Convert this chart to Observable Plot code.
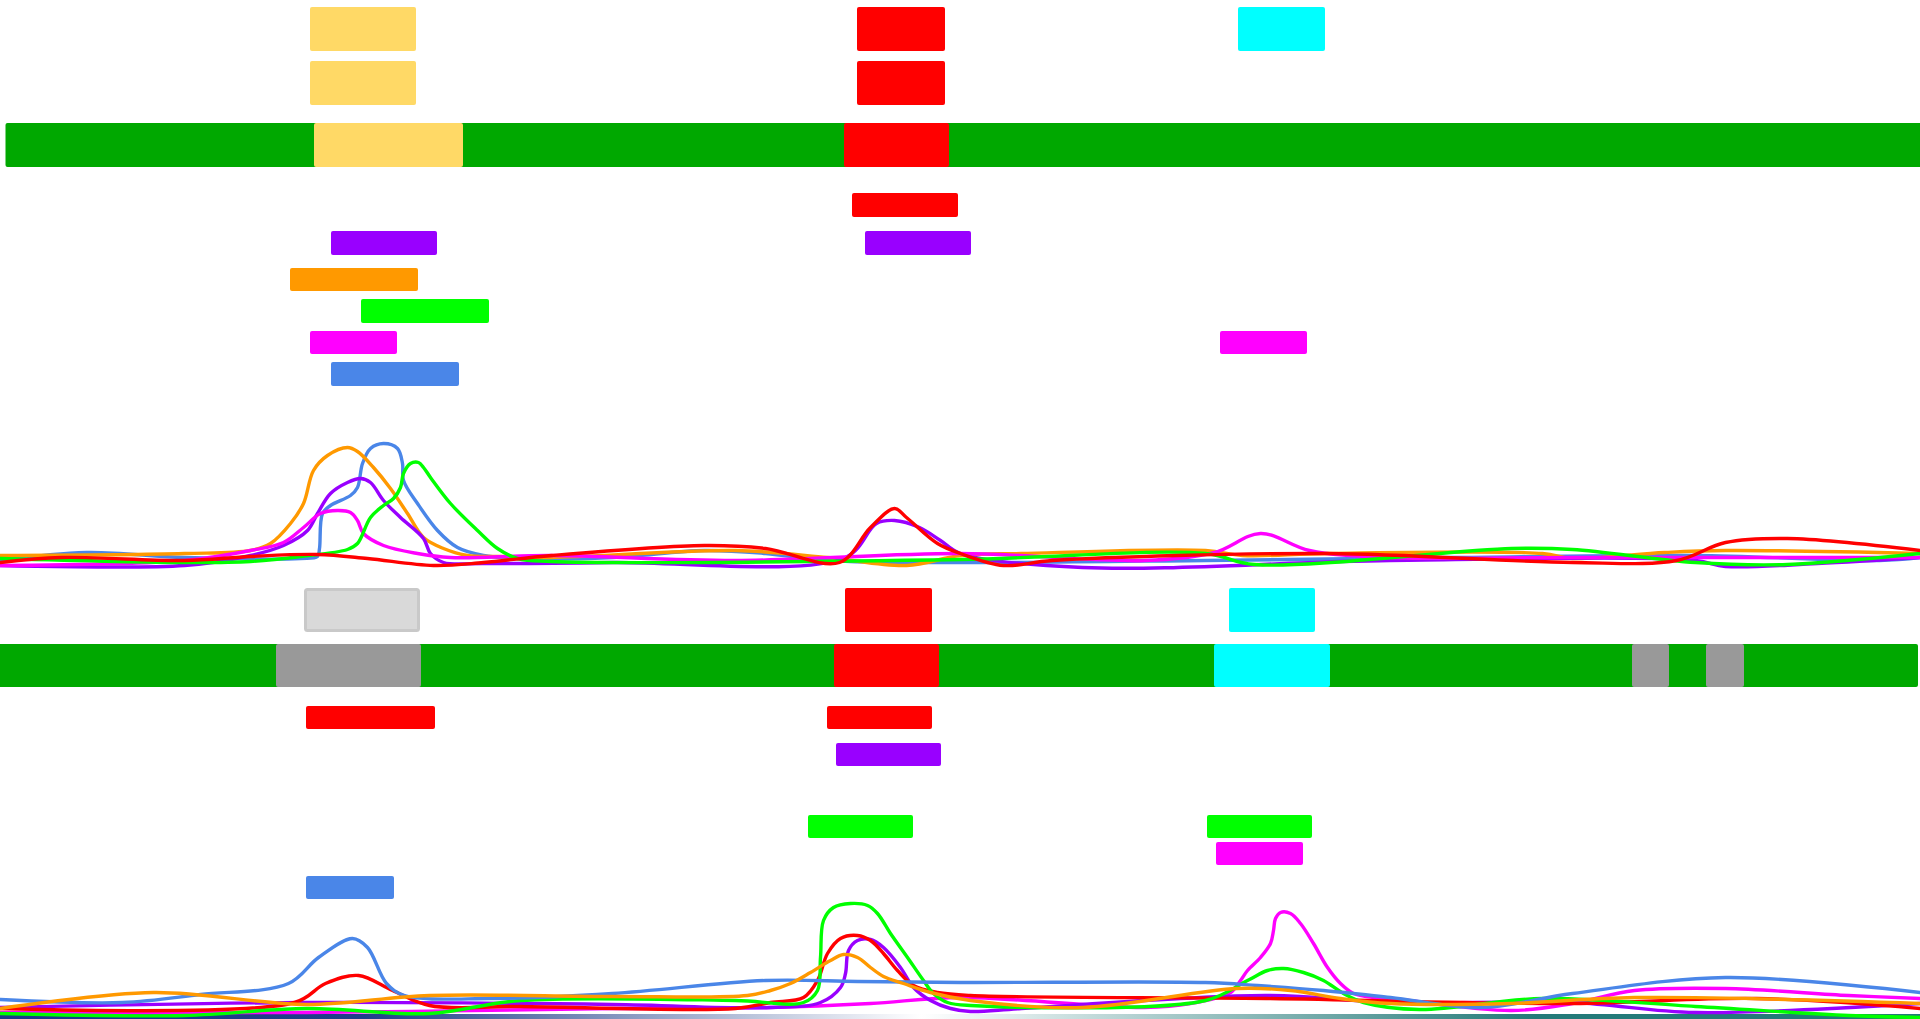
<!DOCTYPE html>
<html>
<head>
<meta charset="utf-8">
<script src="https://cdn.jsdelivr.net/npm/d3@7"></script>
<script src="https://cdn.jsdelivr.net/npm/@observablehq/plot@0.6"></script>
<style>
html, body { margin: 0; padding: 0; background: #fff; overflow: hidden; }
#chart { position: relative; width: 1920px; height: 1019px; }
</style>
</head>
<body>
<div id="chart"></div>
<script>
// ---------- categories & colours ----------
const categories = ["band","trackYellow","trackRed","trackPurple","trackOrange","trackLime","trackMagenta","trackBlue","trackCyan","trackGray","trackLightGray"];
const palette    = ["#00a800","#ffd966","#ff0000","#9900ff","#ff9900","#00ff00","#ff00ff","#4a86e8","#00ffff","#999999","#d9d9d9"];

// genomic window (kb)
const xDomain = [0, 192];

// ---------- feature track A ----------
const featA_start = [0.55, 31.0, 31.0, 31.4, 85.7, 85.7, 84.4, 85.2, 33.1, 86.5, 29.0, 36.1, 31.0, 122.0, 33.1, 123.8];
const featA_end   = [192.5, 41.6, 41.6, 46.3, 94.5, 94.5, 94.9, 95.8, 43.7, 97.1, 41.8, 48.9, 39.7, 130.7, 45.9, 132.5];
const featA_lane  = [2, 0, 1, 2, 0, 1, 2, 3, 4, 4, 5, 6, 7, 7, 8, 0];
const featA_type  = ["band","trackYellow","trackYellow","trackYellow","trackRed","trackRed","trackRed","trackRed","trackPurple","trackPurple","trackOrange","trackLime","trackMagenta","trackMagenta","trackBlue","trackCyan"];

// ---------- feature track B ----------
const featB_start = [-0.5, 30.4, 27.6, 84.5, 83.4, 30.6, 82.7, 83.6, 80.8, 120.7, 30.6, 122.9, 121.4, 163.2, 170.6, 121.6];
const featB_end   = [191.8, 42.0, 42.1, 93.2, 93.9, 43.5, 93.2, 94.1, 91.3, 131.2, 39.4, 131.5, 133.0, 166.9, 174.4, 130.3];
const featB_lane  = [1, 0, 1, 0, 1, 2, 2, 3, 4, 4, 6, 0, 1, 1, 1, 5];
const featB_type  = ["band","trackLightGray","trackGray","trackRed","trackRed","trackRed","trackRed","trackPurple","trackLime","trackLime","trackBlue","trackCyan","trackCyan","trackGray","trackGray","trackMagenta"];

// ---------- signal track 1 ----------
const sig1_blue_pos    = [0, 8.6, 18.4, 30.0, 31.7, 31.9, 32.2, 33.0, 35.0, 35.7, 36.2, 37.0, 38.3, 39.7, 40.2, 40.3, 41.7, 43.7, 45.7, 48.3, 51.7, 61.2, 70.4, 76.5, 82.7, 96.0, 120.5, 145.0, 169.5, 187.9, 192.0];
const sig1_blue_val    = [1.0, 1.8, 1.3, 1.2, 1.4, 2.2, 5.7, 6.5, 7.5, 8.3, 10.7, 12.2, 12.7, 12.2, 10.7, 9.0, 6.7, 4.0, 2.3, 1.5, 1.2, 1.3, 2.0, 1.7, 1.0, 0.8, 1.0, 1.3, 1.5, 1.0, 1.3];
const sig1_orange_pos  = [0, 18.4, 25.0, 27.0, 29.0, 30.3, 31.3, 32.7, 34.7, 35.7, 37.3, 39.0, 40.7, 42.3, 44.3, 46.7, 50.0, 55.0, 73.5, 82.7, 90.6, 96.0, 102.1, 120.5, 124.2, 132.7, 154.2, 157.2, 166.4, 172.5, 192.0];
const sig1_orange_val  = [1.5, 1.7, 2.0, 2.7, 4.7, 6.7, 10.0, 11.5, 12.3, 11.9, 10.3, 8.2, 5.7, 3.3, 2.2, 1.5, 1.4, 1.3, 2.0, 1.3, 0.5, 1.5, 1.7, 2.0, 1.5, 1.7, 1.7, 1.2, 1.8, 2.0, 1.7];
const sig1_purple_pos  = [0, 18.4, 25.0, 28.3, 30.7, 31.7, 33.0, 34.7, 36.0, 37.0, 38.3, 40.0, 42.3, 43.0, 44.3, 48.3, 61.2, 84.5, 87.6, 89.4, 91.9, 94.0, 96.0, 108.2, 138.9, 169.5, 172.5, 181.7, 192.0];
const sig1_purple_val  = [0.5, 0.5, 1.5, 2.5, 4.0, 5.7, 7.7, 8.8, 9.2, 8.8, 7.0, 5.3, 3.2, 1.7, 0.8, 0.7, 0.8, 1.3, 4.7, 5.0, 4.3, 3.0, 1.7, 0.3, 1.0, 1.0, 0.4, 0.7, 1.3];
const sig1_magenta_pos = [0, 18.4, 25.0, 28.3, 30.3, 32.0, 33.7, 35.0, 35.7, 36.3, 38.3, 41.7, 45.0, 55.0, 73.5, 96.0, 114.4, 121.4, 126.0, 130.9, 138.9, 157.2, 192.0];
const sig1_magenta_val = [0.5, 1.0, 2.0, 2.8, 4.3, 5.7, 6.0, 5.8, 5.0, 3.7, 2.5, 1.7, 1.3, 1.5, 1.0, 1.7, 1.0, 1.8, 3.7, 2.0, 1.3, 1.3, 1.3];
const sig1_lime_pos    = [0, 18.4, 25.0, 30.0, 34.7, 35.7, 37.0, 38.3, 39.3, 40.0, 40.3, 41.0, 41.8, 42.3, 43.0, 45.0, 47.7, 49.7, 51.7, 55.0, 96.0, 120.5, 125.4, 151.1, 157.2, 169.5, 178.7, 192.0];
const sig1_lime_val    = [1.2, 0.8, 0.9, 1.4, 2.1, 2.7, 5.3, 6.5, 7.2, 8.3, 9.7, 10.7, 10.8, 10.3, 9.3, 6.7, 4.0, 2.2, 1.2, 0.9, 1.1, 1.7, 0.6, 2.2, 2.1, 0.8, 0.6, 1.7];
const sig1_red_pos     = [0, 6.1, 18.4, 25.0, 31.7, 36.7, 43.3, 48.3, 55.1, 70.4, 76.5, 83.9, 87.0, 89.4, 90.6, 93.7, 96.0, 100.3, 105.2, 132.7, 157.2, 167.6, 172.5, 178.7, 192.0];
const sig1_red_val     = [0.8, 1.3, 1.0, 1.4, 1.6, 1.2, 0.5, 0.8, 1.5, 2.5, 2.2, 0.8, 4.3, 6.2, 5.3, 2.7, 1.7, 0.5, 1.0, 1.7, 0.8, 1.0, 2.8, 3.2, 2.0];

// ---------- signal track 2 ----------
const sig2_magenta_pos = [0, 30.6, 61.2, 77.0, 87.0, 96.0, 114.4, 119.0, 123.0, 124.0, 124.7, 126.0, 127.0, 127.3, 127.5, 128.0, 129.0, 130.0, 131.3, 132.7, 134.0, 135.3, 137.3, 139.0, 151.1, 157.2, 163.4, 172.5, 184.8, 192.0];
const sig2_magenta_val = [0.7, 0.7, 1.1, 1.2, 1.6, 2.2, 1.2, 1.6, 2.7, 3.9, 4.9, 6.2, 7.6, 8.9, 10.1, 10.7, 10.6, 9.6, 7.6, 5.2, 3.6, 2.6, 2.2, 2.1, 0.9, 1.6, 2.9, 3.1, 2.4, 2.1];
const sig2_purple_pos  = [0, 30.6, 61.2, 77.0, 82.0, 84.0, 84.5, 84.8, 85.7, 87.0, 88.3, 90.0, 91.3, 93.0, 95.0, 97.0, 102.1, 126.6, 138.9, 157.2, 169.5, 192.0];
const sig2_purple_val  = [1.2, 1.7, 1.5, 1.2, 1.7, 3.2, 4.6, 6.9, 7.9, 8.0, 7.2, 5.2, 3.2, 1.9, 1.1, 0.8, 1.1, 2.4, 1.7, 1.7, 0.7, 1.6];
const sig2_red_pos     = [0, 29.4, 32.5, 35.8, 39.2, 42.9, 52.0, 73.5, 77.0, 80.3, 81.7, 82.7, 84.0, 85.7, 87.0, 88.3, 89.7, 91.3, 93.7, 97.0, 126.6, 157.2, 175.6, 192.0];
const sig2_red_val     = [1.1, 1.7, 3.6, 4.4, 2.9, 1.4, 1.3, 1.1, 1.7, 2.2, 3.9, 6.6, 8.1, 8.4, 7.9, 6.6, 4.9, 3.4, 2.7, 2.4, 2.1, 1.6, 2.1, 1.1];
const sig2_lime_pos    = [0, 18.4, 30.6, 42.9, 52.0, 73.5, 80.3, 81.7, 82.0, 82.3, 83.3, 85.0, 86.7, 87.7, 89.0, 90.7, 92.3, 93.3, 94.7, 97.0, 120.5, 124.7, 126.7, 128.3, 130.3, 132.3, 134.3, 136.3, 141.9, 154.2, 169.5, 184.8, 192.0];
const sig2_lime_val    = [0.6, 0.4, 1.1, 0.6, 1.9, 1.9, 1.7, 2.9, 6.2, 9.9, 11.2, 11.6, 11.4, 10.6, 8.6, 6.2, 3.9, 2.6, 1.7, 1.4, 1.9, 3.9, 4.9, 5.1, 4.7, 3.9, 2.6, 1.7, 1.0, 2.1, 1.3, 0.4, 0.2];
const sig2_blue_pos    = [0, 12.2, 20.0, 28.8, 31.8, 35.2, 36.7, 38.6, 40.4, 49.0, 61.2, 76.5, 85.7, 96.0, 120.5, 125.7, 132.3, 139.0, 148.0, 157.2, 172.5, 192.0];
const sig2_blue_val    = [2.0, 1.7, 2.5, 3.6, 6.2, 8.1, 7.2, 3.6, 2.4, 2.1, 2.6, 3.9, 3.8, 3.7, 3.7, 3.4, 2.9, 2.2, 1.2, 2.6, 4.2, 2.7];
const sig2_orange_pos  = [0, 15.3, 30.6, 42.9, 61.2, 74.7, 77.0, 79.0, 81.0, 83.0, 84.3, 85.7, 87.0, 88.3, 90.3, 93.0, 97.0, 108.2, 123.6, 129.0, 134.0, 139.0, 151.1, 163.4, 192.0];
const sig2_orange_val  = [1.1, 2.7, 1.5, 2.4, 2.3, 2.4, 2.9, 3.6, 4.7, 5.9, 6.5, 6.2, 5.2, 4.3, 3.6, 2.7, 1.9, 1.2, 3.1, 2.9, 2.1, 1.6, 1.6, 2.2, 1.6];

// ---------- layout (style, not data) ----------
const W = 1920;
const LINE_W = 3.4;
const laneA_px = [[7,51],[61,105],[123,167],[193,217],[231,255],[268,291],[299,323],[331,354],[362,386]];
const laneB_px = [[13,57],[69,112],[131,154],[168,191],[240,263],[267,290],[301,324]];

function featRows(start, end, lane, type) {
  return start.map((s, i) => ({start: s, end: end[i], lane: lane[i], type: type[i]}));
}
function seriesRows(list) {
  return list.flatMap(([name, pos, val]) => pos.map((p, i) => ({series: name, pos: p, value: val[i]})));
}
const colorScale = {type: "ordinal", domain: categories, range: palette};
const baseStyle = top => ({position: "absolute", left: "0px", top: top + "px", background: "transparent", overflow: "visible"});

const rowsA = featRows(featA_start, featA_end, featA_lane, featA_type);
const rowsB = featRows(featB_start, featB_end, featB_lane, featB_type);

const sig1 = seriesRows([
  ["trackBlue", sig1_blue_pos, sig1_blue_val],
  ["trackOrange", sig1_orange_pos, sig1_orange_val],
  ["trackPurple", sig1_purple_pos, sig1_purple_val],
  ["trackMagenta", sig1_magenta_pos, sig1_magenta_val],
  ["trackLime", sig1_lime_pos, sig1_lime_val],
  ["trackRed", sig1_red_pos, sig1_red_val]
]);
const sig2 = seriesRows([
  ["trackMagenta", sig2_magenta_pos, sig2_magenta_val],
  ["trackPurple", sig2_purple_pos, sig2_purple_val],
  ["trackRed", sig2_red_pos, sig2_red_val],
  ["trackLime", sig2_lime_pos, sig2_lime_val],
  ["trackBlue", sig2_blue_pos, sig2_blue_val],
  ["trackOrange", sig2_orange_pos, sig2_orange_val]
]);

const chart = document.getElementById("chart");

// Feature track A
chart.append(Plot.plot({
  width: W, height: 400, margin: 0,
  style: baseStyle(0),
  x: {domain: xDomain, axis: null},
  y: {type: "identity", axis: null},
  color: colorScale,
  marks: [
    Plot.rect(rowsA, {x1: "start", x2: "end", y1: d => laneA_px[d.lane][0], y2: d => laneA_px[d.lane][1], fill: "type", rx: 2})
  ]
}));

// Signal track 1
chart.append(Plot.plot({
  width: W, height: 175, margin: 0,
  style: baseStyle(400),
  x: {domain: xDomain, axis: null},
  y: {domain: [0, 13], range: [170, 40], axis: null},
  color: colorScale,
  marks: [
    Plot.line(sig1, {x: "pos", y: "value", z: "series", stroke: "series", strokeWidth: LINE_W, curve: "catmull-rom", strokeLinejoin: "round"})
  ]
}));

// Feature track B
chart.append(Plot.plot({
  width: W, height: 305, margin: 0,
  style: baseStyle(575),
  x: {domain: xDomain, axis: null},
  y: {type: "identity", axis: null},
  color: colorScale,
  marks: [
    Plot.rect(rowsB.filter(d => d.type !== "trackLightGray"), {x1: "start", x2: "end", y1: d => laneB_px[d.lane][0], y2: d => laneB_px[d.lane][1], fill: "type", rx: 2}),
    Plot.rect(rowsB.filter(d => d.type === "trackLightGray"), {x1: "start", x2: "end", y1: d => laneB_px[d.lane][0], y2: d => laneB_px[d.lane][1], fill: "type", stroke: "#c9c9c9", strokeWidth: 3, inset: 1.5, rx: 2})
  ]
}));

// Signal track 2 + bottom gradient strip
const p4 = Plot.plot({
  width: W, height: 139, margin: 0,
  style: baseStyle(880),
  x: {domain: xDomain, axis: null},
  y: {domain: [0, 12], range: [139, 19], axis: null},
  color: colorScale,
  marks: [
    Plot.rect([{start: xDomain[0], end: xDomain[1]}], {x1: "start", x2: "end", y1: 0.5, y2: -0.6, fill: "url(#bottomGrad)"}),
    Plot.line(sig2, {x: "pos", y: "value", z: "series", stroke: "series", strokeWidth: LINE_W, curve: "catmull-rom", strokeLinejoin: "round"})
  ]
});
d3.select(p4).insert("defs", ":first-child").html(
  '<linearGradient id="bottomGrad" x1="0" x2="1" y1="0" y2="0">' +
  '<stop offset="0" stop-color="#1c3b88"/>' +
  '<stop offset="0.19" stop-color="#1f3e8a"/>' +
  '<stop offset="0.48" stop-color="#ffffff"/>' +
  '<stop offset="0.80" stop-color="#237a79"/>' +
  '<stop offset="1" stop-color="#237a79"/>' +
  '</linearGradient>'
);
chart.append(p4);
</script>
</body>
</html>
